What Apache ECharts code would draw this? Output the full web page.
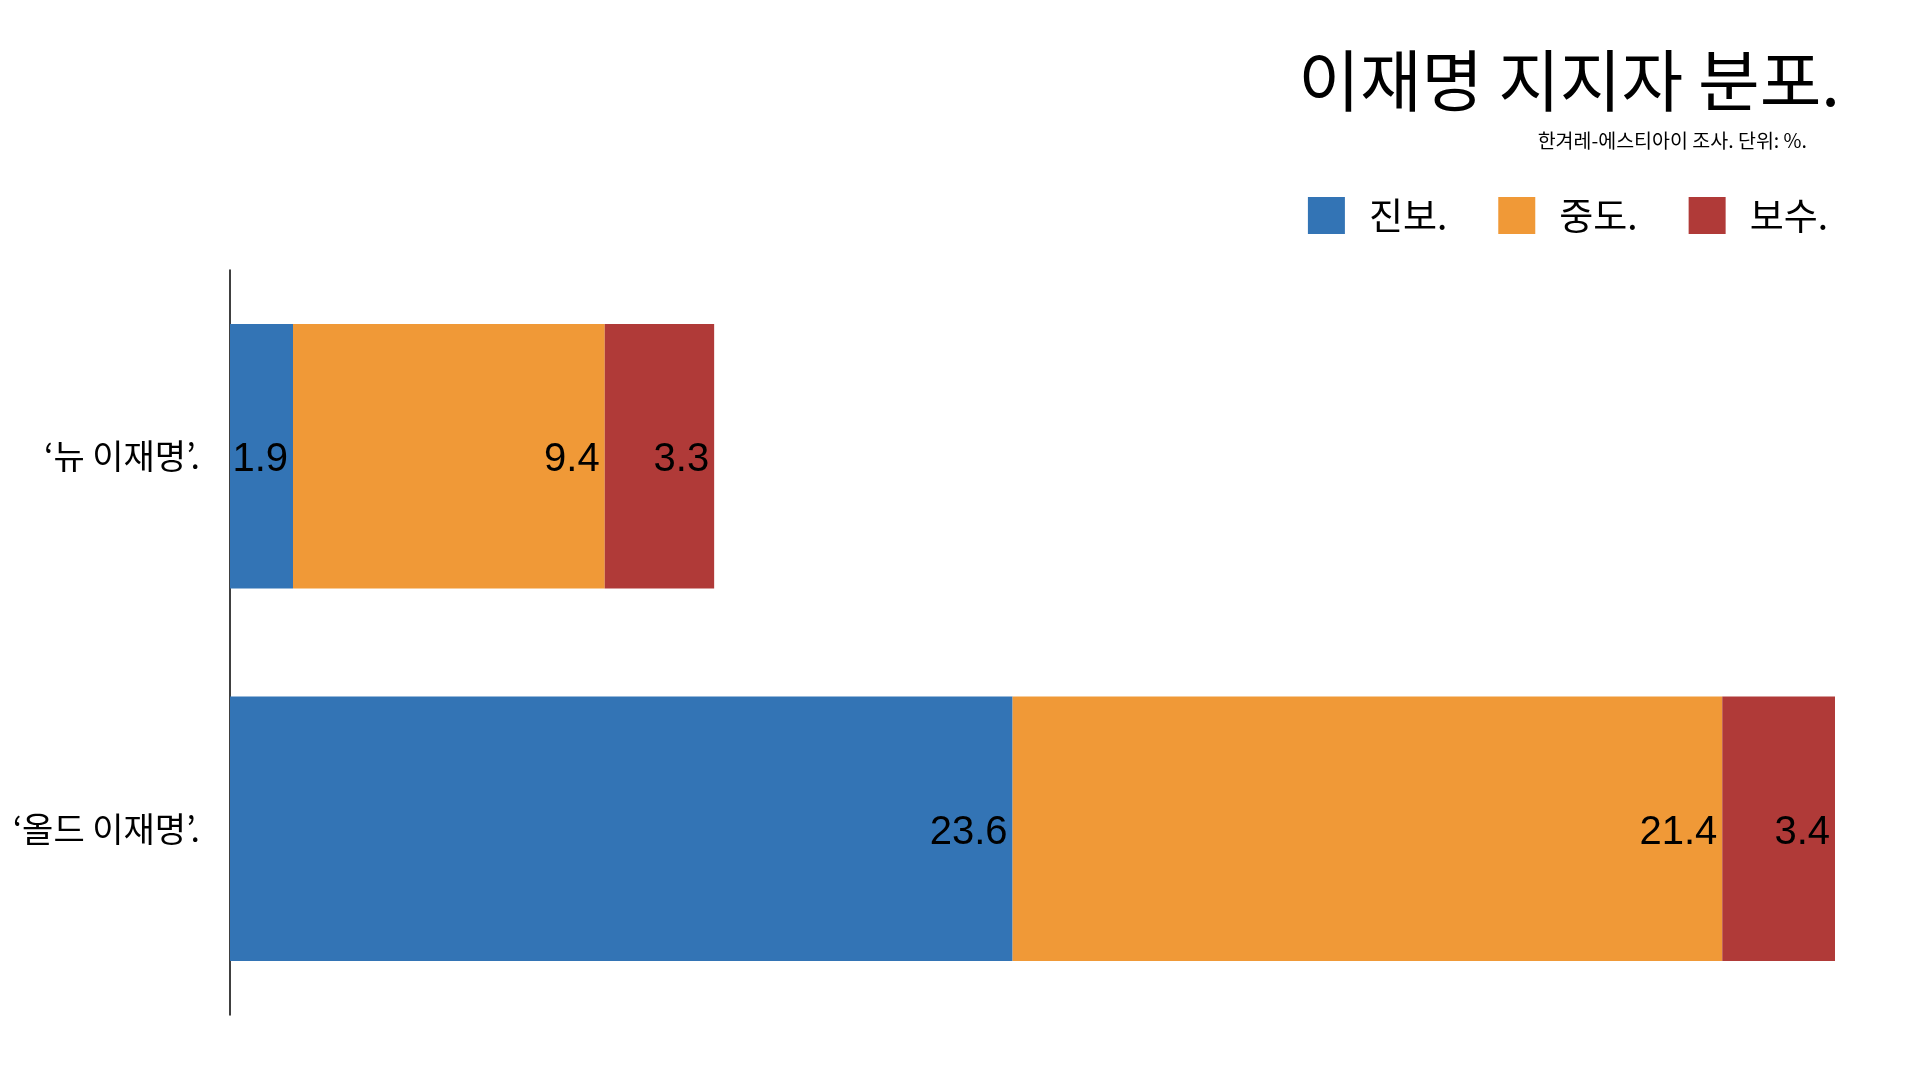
<!DOCTYPE html>
<html>
<head>
<meta charset="utf-8">
<script src="https://cdn.jsdelivr.net/npm/echarts@6/dist/echarts.min.js"></script>
<style>
  html, body { margin: 0; padding: 0; background: #fff; }
  #chart { width: 1920px; height: 1080px; }
</style>
</head>
<body>
<div id="chart"></div>
<script>
const categories = ['‘뉴 이재명’.', '‘올드 이재명’.'];
const seriesNames = ['진보.', '중도.', '보수.'];
const progressive = [1.9, 23.6];
const moderate = [9.4, 21.4];
const conservative = [3.3, 3.4];
const colors = ['#3374B5', '#F09937', '#B03A38'];
const titleText = '이재명 지지자 분포.';
const subtitleText = '한겨레-에스티아이 조사. 단위: %.';

const cjk = '"Noto Sans CJK KR", "Noto Sans", sans-serif';
const num = '"Liberation Sans", Arial, sans-serif';

const chart = echarts.init(document.getElementById('chart'));
const valuesList = [progressive, moderate, conservative];

chart.setOption({
  animation: false,
  backgroundColor: '#fff',
  title: [
    { text: titleText, right: 75, top: 42,
      textStyle: { fontFamily: cjk, fontSize: 67, fontWeight: 'normal', color: '#000' } },
    { text: subtitleText, right: 108, top: 126,
      textStyle: { fontFamily: cjk, fontSize: 19.5, fontWeight: 'normal', color: '#000' } }
  ],
  legend: {
    right: 87, top: 192,
    itemWidth: 37, itemHeight: 37, itemGap: 51,
    icon: 'rect',
    data: seriesNames,
    textStyle: { fontFamily: cjk, fontSize: 37, color: '#000', padding: [0, 0, 0, 19] }
  },
  grid: { left: 230, right: 85, top: 270, bottom: 65, containLabel: false },
  xAxis: {
    type: 'value', min: 0, max: 48.4, show: false
  },
  yAxis: {
    type: 'category', data: categories, inverse: true,
    axisLine: { show: true, lineStyle: { color: '#000', width: 1.5 } },
    axisTick: { show: false },
    axisLabel: { fontFamily: cjk, fontSize: 34, color: '#000', margin: 30, padding: [6, 0, 0, 0] }
  },
  series: seriesNames.map((name, i) => ({
    name: name,
    type: 'bar',
    stack: 'total',
    barWidth: '71%',
    data: valuesList[i],
    itemStyle: { color: colors[i] },
    label: {
      show: true, position: 'insideRight', distance: 5, offset: [0, 4],
      fontFamily: num, fontSize: 40, color: '#000',
      formatter: p => p.value.toFixed(1)
    }
  }))
});
</script>
</body>
</html>
